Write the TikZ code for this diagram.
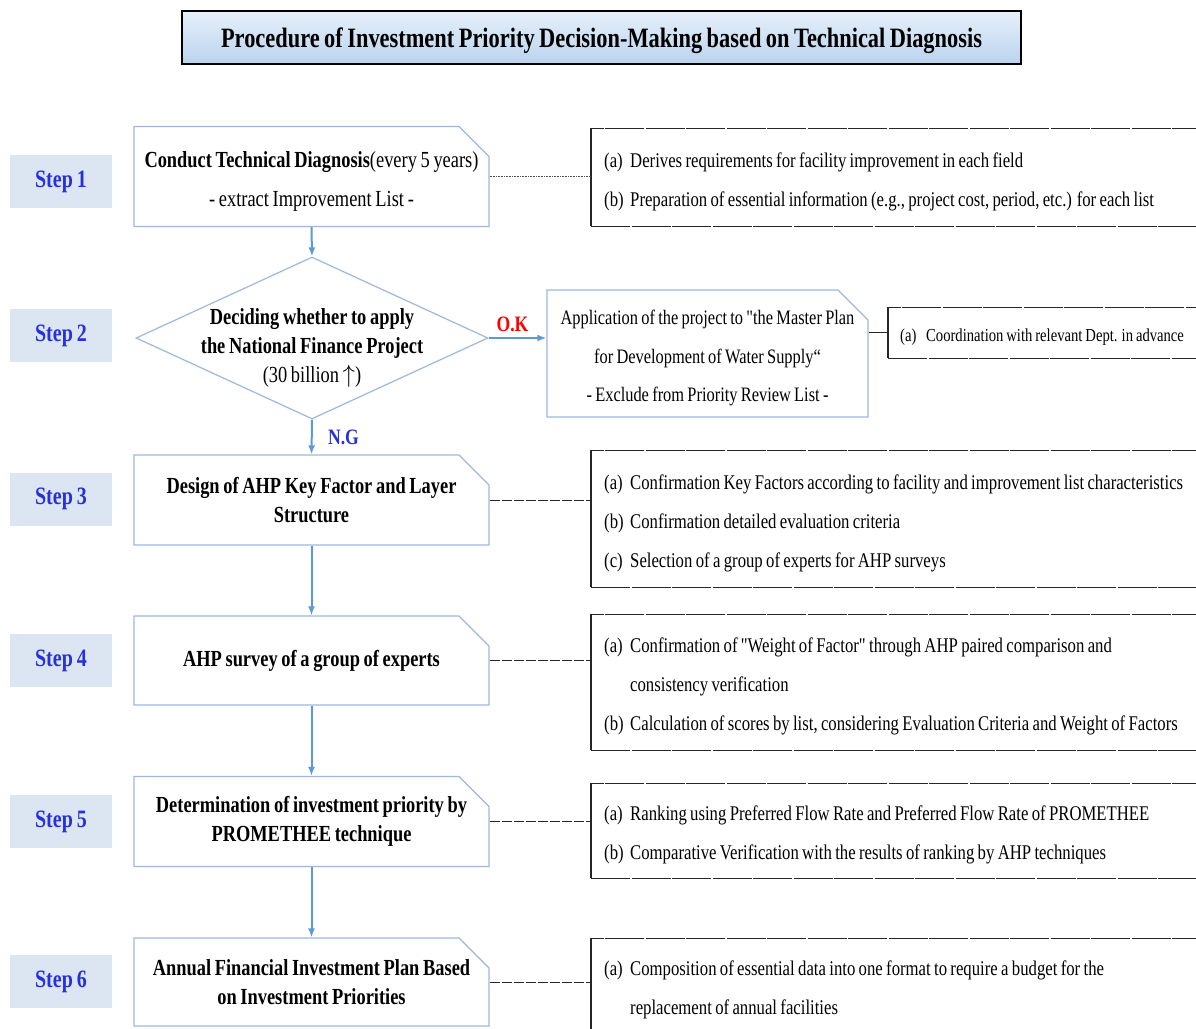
\documentclass[tikz,border=0pt]{standalone}
\usepackage{fontspec}
\setmainfont{Liberation Serif}[FakeStretch=0.8, WordSpace=0.8, Ligatures=TeXOff]
\usetikzlibrary{shapes.misc,shapes.geometric,arrows.meta}
\definecolor{boxline}{HTML}{9DB8DE}
\definecolor{flow}{HTML}{5B9BD5}
\definecolor{stepfill}{HTML}{DCE6F2}
\definecolor{steptext}{HTML}{2631D9}
\definecolor{titletop}{HTML}{E6F0FA}
\definecolor{titlebot}{HTML}{BAD3EE}
\definecolor{okred}{HTML}{FF0000}
\newcommand{\itm}[1]{\makebox[26pt][l]{#1}}
% empty frame content that keeps the chamfer of a box with a separate text node
\newcommand{\framestrut}{\rule{0pt}{60pt}\hspace*{280pt}}
\begin{document}
\begin{tikzpicture}[x=1pt,y=-1pt,
  stepbox/.style={fill=stepfill, minimum width=102pt, minimum height=53pt, inner sep=0pt,
    text=steptext, font=\fontsize{25}{28}\selectfont\bfseries},
  procbox/.style={chamfered rectangle, chamfered rectangle corners=north east,
    chamfered rectangle xsep=10pt, chamfered rectangle ysep=20pt,
    draw=boxline, line width=1.2pt, minimum width=355pt, inner sep=0pt, align=center,
    font=\fontsize{23}{29}\selectfont},
  notebox/.style={anchor=north west, minimum width=620pt, inner sep=0pt},
  notetext/.style={anchor=west, text width=594pt, inner sep=0pt, align=flush left,
    font=\fontsize{20.9}{39}\selectfont},
  noteedge/.style={draw=black!85, line width=1pt, dash pattern=on 39pt off 1.5pt},
  noteside/.style={draw=black!85, line width=1.1pt},
  flowarrow/.style={draw=flow, line width=2pt, -{Latex[length=9pt,width=7pt]}},
  link/.style={draw=black!85, line width=0.9pt, dash pattern=on 10pt off 2pt},
  dotlink/.style={draw=black!70, line width=0.8pt, dash pattern=on 1pt off 0.6pt}
]
\fill[white] (0,0) rectangle (1196,1028);
\useasboundingbox (0,0) rectangle (1196,1028);

% title
\node[draw=black, line width=2.2pt, top color=titletop, bottom color=titlebot,
  minimum width=839pt, minimum height=53pt, text depth=0pt,
  font=\fontsize{28}{30}\selectfont\bfseries]
  (title) at (601.5,37.5) {Procedure of Investment Priority Decision-Making based on Technical Diagnosis};

% step labels
\node[stepbox] (l1) at (61,181.5) {Step 1};
\node[stepbox] (l2) at (61,335.5) {Step 2};
\node[stepbox] (l3) at (61,499) {Step 3};
\node[stepbox] (l4) at (61,660.5) {Step 4};
\node[stepbox] (l5) at (61,821.5) {Step 5};
\node[stepbox] (l6) at (61,981.5) {Step 6};

% process boxes
\node[procbox, minimum height=89pt] (s1) at (311.5,176.5) {\framestrut};
\node[align=center, inner sep=0pt, font=\fontsize{23}{39}\selectfont, yshift=-4.5pt] (s1text) at (s1.center)
  {\textbf{Conduct Technical Diagnosis}(every 5 years)\\- extract Improvement List -};
\node[diamond, aspect=2.173, draw=boxline, line width=1.2pt, minimum width=352pt,
  minimum height=162pt, inner sep=0pt] (dec) at (312,338) {};
\node[align=center, inner sep=0pt, font=\fontsize{23}{29}\selectfont, yshift=-10pt] (dectext) at (dec.center)
  {\textbf{Deciding whether to apply}\\\textbf{the National Finance Project}\\(30 billion $\uparrow$)};
\node[procbox, minimum width=321pt, minimum height=127pt] (app) at (707.5,353.5) {\framestrut};
\node[align=center, inner sep=0pt, font=\fontsize{20.5}{38.5}\selectfont, yshift=-4.5pt] (apptext) at (app.center)
  {Application of the project to "the Master Plan\\for Development of Water Supply“\\- Exclude from Priority Review List -};
\node[procbox, minimum height=90pt, font=\fontsize{23}{29}\selectfont\bfseries] (s3) at (311.5,500)
  {Design of AHP Key Factor and Layer\\Structure};
\node[procbox, minimum height=89pt, font=\fontsize{23}{29}\selectfont\bfseries] (s4) at (311.5,660.5)
  {AHP survey of a group of experts};
\node[procbox, minimum height=89pt, font=\fontsize{23}{29}\selectfont\bfseries] (s5) at (311.5,821.5)
  {Determination of investment priority by\\PROMETHEE technique};
\node[procbox, minimum height=88pt, font=\fontsize{23}{29}\selectfont\bfseries] (s6) at (311.5,982)
  {Annual Financial Investment Plan Based\\on Investment Priorities};

% note boxes (frames) and their texts
\node[notebox, minimum height=98pt] (r1) at (591,128) {};
\node[notetext, xshift=13pt, yshift=-4.5pt] (r1text) at (r1.west)
  {\itm{(a)}Derives requirements for facility improvement in each field\\
   \itm{(b)}Preparation of essential information (e.g., project cost, period, etc.) for each list};
\node[notebox, minimum height=51pt] (r2) at (888,307) {};
\node[notetext, xshift=12pt, yshift=-4pt, font=\fontsize{18.3}{30}\selectfont] (r2text) at (r2.west)
  {\itm{(a)}Coordination with relevant Dept. in advance};
\node[notebox, minimum height=137pt] (r3) at (591,450) {};
\node[notetext, xshift=13pt, yshift=-4.5pt] (r3text) at (r3.west)
  {\itm{(a)}Confirmation Key Factors according to facility and improvement list characteristics\\
   \itm{(b)}Confirmation detailed evaluation criteria\\
   \itm{(c)}Selection of a group of experts for AHP surveys};
\node[notebox, minimum height=136pt] (r4) at (591,614) {};
\node[notetext, xshift=13pt, yshift=-4.5pt] (r4text) at (r4.west)
  {\itm{(a)}Confirmation of "Weight of Factor" through AHP paired comparison and\\
   \hspace*{26pt}consistency verification\\
   \itm{(b)}Calculation of scores by list, considering Evaluation Criteria and Weight of Factors};
\node[notebox, minimum height=95pt] (r5) at (591,783) {};
\node[notetext, xshift=13pt, yshift=-4.5pt] (r5text) at (r5.west)
  {\itm{(a)}Ranking using Preferred Flow Rate and Preferred Flow Rate of PROMETHEE\\
   \itm{(b)}Comparative Verification with the results of ranking by AHP techniques};
\node[notebox, minimum height=94pt] (r6) at (591,938) {};
\node[notetext, xshift=13pt, yshift=-4.5pt] (r6text) at (r6.west)
  {\itm{(a)}Composition of essential data into one format to require a budget for the\\
   \hspace*{26pt}replacement of annual facilities};

\foreach \r in {r1,r2,r3,r4,r5,r6}{
  \draw[noteedge] (\r.north east) -- (\r.north west);
  \draw[noteside] (\r.north west) -- (\r.south west);
  \draw[noteedge] (\r.south west) -- (\r.south east);
}

% flow arrows
\draw[flowarrow] (s1.south) -- (dec.north);
\draw[flowarrow] (dec.east) -- (dec.east -| app.west)
  node[midway, above=2pt, xshift=-5pt, text=okred, font=\fontsize{22}{24}\selectfont\bfseries] (ok) {O.K};
\draw[flowarrow] (dec.south) -- (s3.north)
  node[midway, right=12pt, text=steptext, font=\fontsize{22}{24}\selectfont\bfseries] (ng) {N.G};
\draw[flowarrow] (s3.south) -- (s4.north);
\draw[flowarrow] (s4.south) -- (s5.north);
\draw[flowarrow] (s5.south) -- (s6.north);

% links to notes
\draw[dotlink] (s1.east) -- (s1.east -| r1.west);
\draw[noteside, line width=0.9pt] (r2.west -| app.east) -- (r2.west);
\draw[link] (s3.east) -- (s3.east -| r3.west);
\draw[link] (s4.east) -- (s4.east -| r4.west);
\draw[link] (s5.east) -- (s5.east -| r5.west);
\draw[link] (s6.east) -- (s6.east -| r6.west);
\end{tikzpicture}
\end{document}
